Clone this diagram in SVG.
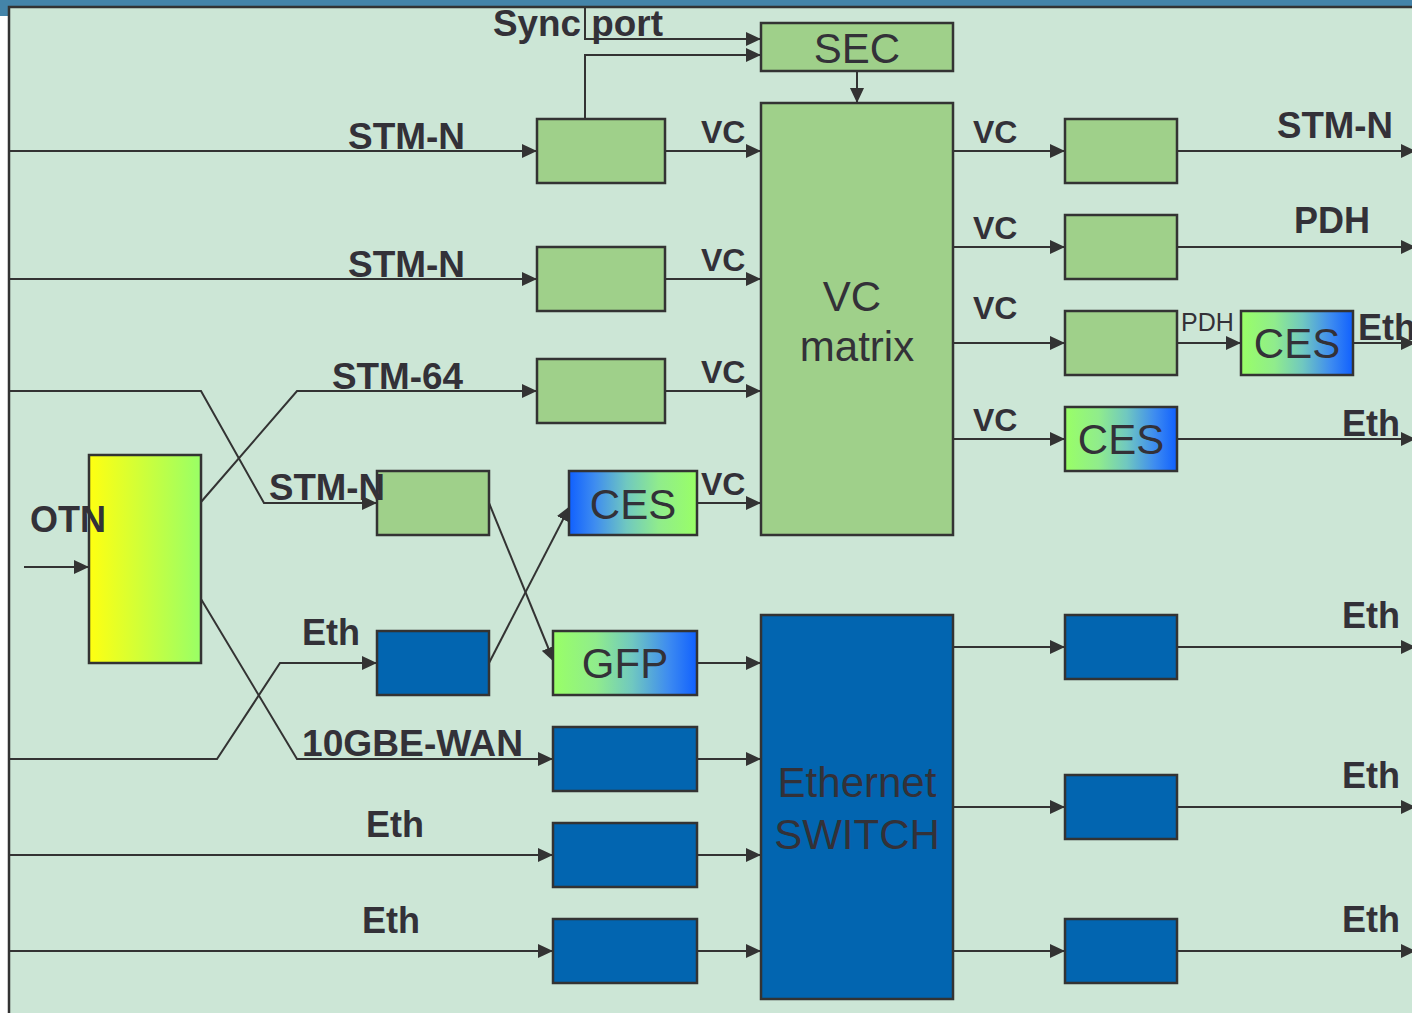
<svg xmlns="http://www.w3.org/2000/svg" width="1412" height="1013" viewBox="0 0 1412 1013">
<defs>
<style>
.g{fill:#9fd08a;stroke:#333;stroke-width:2.5}
.b{fill:#0265b0;stroke:#333;stroke-width:2.5}
.c{fill:none;stroke:#333;stroke-width:2}
.lb{font-family:"Liberation Sans",Arial,sans-serif;font-weight:bold;font-size:36px;fill:#333138}
.vc{font-family:"Liberation Sans",Arial,sans-serif;font-weight:bold;font-size:32px;fill:#333138}
.t{font-family:"Liberation Sans",Arial,sans-serif;font-size:42px;fill:#333138;text-anchor:middle}
.s{font-family:"Liberation Sans",Arial,sans-serif;font-size:25px;fill:#333138}
</style>
<marker id="ah" viewBox="0 0 15 14" refX="15" refY="7" markerWidth="15" markerHeight="14" orient="auto" markerUnits="userSpaceOnUse">
<path d="M0,0 L15,7 L0,14 z" fill="#333"/>
</marker>
<linearGradient id="gb" x1="0" y1="0" x2="1" y2="0">
<stop offset="0" stop-color="#99ff66"/>
<stop offset="0.3" stop-color="#90ec8c"/>
<stop offset="0.55" stop-color="#70c8c0"/>
<stop offset="0.8" stop-color="#3e8cf0"/>
<stop offset="1" stop-color="#1060ff"/>
</linearGradient>
<linearGradient id="bg" x1="1" y1="0" x2="0" y2="0">
<stop offset="0" stop-color="#99ff66"/>
<stop offset="0.3" stop-color="#90ec8c"/>
<stop offset="0.55" stop-color="#70c8c0"/>
<stop offset="0.8" stop-color="#3e8cf0"/>
<stop offset="1" stop-color="#1060ff"/>
</linearGradient>
<linearGradient id="yg" x1="0" y1="0" x2="1" y2="0">
<stop offset="0" stop-color="#ffff11"/>
<stop offset="1" stop-color="#99ff66"/>
</linearGradient>
</defs>

<rect x="0" y="0" width="1412" height="1013" fill="#ffffff"/>
<rect x="0" y="0" width="1412" height="7" fill="#4484a9"/>
<rect x="0" y="0" width="9" height="16" fill="#4484a9"/>
<rect x="9" y="7" width="1420" height="1020" fill="#cce6d6" stroke="#333" stroke-width="2.5"/>

<g id="connectors">
<polyline class="c" points="585,8 585,39 761,39" marker-end="url(#ah)"/>
<polyline class="c" points="585,119 585,55 761,55" marker-end="url(#ah)"/>
<line class="c" x1="857" y1="71" x2="857" y2="103" marker-end="url(#ah)"/>
<line class="c" x1="9" y1="151" x2="537" y2="151" marker-end="url(#ah)"/>
<line class="c" x1="9" y1="279" x2="537" y2="279" marker-end="url(#ah)"/>
<polyline class="c" points="9,391 201,391 264,503 377,503" marker-end="url(#ah)"/>
<polyline class="c" points="201,502 297,391 537,391" marker-end="url(#ah)"/>
<polyline class="c" points="201,599 297,759 553,759" marker-end="url(#ah)"/>
<polyline class="c" points="9,759 217,759 280,663 377,663" marker-end="url(#ah)"/>
<line class="c" x1="24" y1="567" x2="89" y2="567" marker-end="url(#ah)"/>
<line class="c" x1="489" y1="503" x2="554" y2="662" marker-end="url(#ah)"/>
<line class="c" x1="489" y1="663" x2="570" y2="506" marker-end="url(#ah)"/>
<line class="c" x1="9" y1="855" x2="553" y2="855" marker-end="url(#ah)"/>
<line class="c" x1="9" y1="951" x2="553" y2="951" marker-end="url(#ah)"/>
<line class="c" x1="665" y1="151" x2="761" y2="151" marker-end="url(#ah)"/>
<line class="c" x1="665" y1="279" x2="761" y2="279" marker-end="url(#ah)"/>
<line class="c" x1="665" y1="391" x2="761" y2="391" marker-end="url(#ah)"/>
<line class="c" x1="697" y1="503" x2="761" y2="503" marker-end="url(#ah)"/>
<line class="c" x1="697" y1="663" x2="761" y2="663" marker-end="url(#ah)"/>
<line class="c" x1="697" y1="759" x2="761" y2="759" marker-end="url(#ah)"/>
<line class="c" x1="697" y1="855" x2="761" y2="855" marker-end="url(#ah)"/>
<line class="c" x1="697" y1="951" x2="761" y2="951" marker-end="url(#ah)"/>
<line class="c" x1="953" y1="151" x2="1065" y2="151" marker-end="url(#ah)"/>
<line class="c" x1="953" y1="247" x2="1065" y2="247" marker-end="url(#ah)"/>
<line class="c" x1="953" y1="343" x2="1065" y2="343" marker-end="url(#ah)"/>
<line class="c" x1="953" y1="439" x2="1065" y2="439" marker-end="url(#ah)"/>
<line class="c" x1="953" y1="647" x2="1065" y2="647" marker-end="url(#ah)"/>
<line class="c" x1="953" y1="807" x2="1065" y2="807" marker-end="url(#ah)"/>
<line class="c" x1="953" y1="951" x2="1065" y2="951" marker-end="url(#ah)"/>
<line class="c" x1="1177" y1="151" x2="1416" y2="151" marker-end="url(#ah)"/>
<line class="c" x1="1177" y1="247" x2="1416" y2="247" marker-end="url(#ah)"/>
<line class="c" x1="1177" y1="343" x2="1241" y2="343" marker-end="url(#ah)"/>
<line class="c" x1="1353" y1="343" x2="1416" y2="343" marker-end="url(#ah)"/>
<line class="c" x1="1177" y1="439" x2="1416" y2="439" marker-end="url(#ah)"/>
<line class="c" x1="1177" y1="647" x2="1416" y2="647" marker-end="url(#ah)"/>
<line class="c" x1="1177" y1="807" x2="1416" y2="807" marker-end="url(#ah)"/>
<line class="c" x1="1177" y1="951" x2="1416" y2="951" marker-end="url(#ah)"/>
</g>

<g id="sec"><rect class="g" x="761" y="23" width="192" height="48"/><text class="t" x="857" y="63">SEC</text></g>
<g id="vcmatrix"><rect class="g" x="761" y="103" width="192" height="432"/><text class="t" x="852" y="311">VC</text><text class="t" x="857" y="361">matrix</text></g>
<g id="in1"><rect class="g" x="537" y="119" width="128" height="64"/></g>
<g id="in2"><rect class="g" x="537" y="247" width="128" height="64"/></g>
<g id="in3"><rect class="g" x="537" y="359" width="128" height="64"/></g>
<g id="stmn"><rect class="g" x="377" y="471" width="112" height="64"/></g>
<g id="ethin"><rect class="b" x="377" y="631" width="112" height="64"/></g>
<g id="otn"><rect x="89" y="455" width="112" height="208" fill="url(#yg)" stroke="#333" stroke-width="2.5"/></g>
<g id="cesl"><rect x="569" y="471" width="128" height="64" fill="url(#bg)" stroke="#333" stroke-width="2.5"/><text class="t" x="633" y="519">CES</text></g>
<g id="gfp"><rect x="553" y="631" width="144" height="64" fill="url(#gb)" stroke="#333" stroke-width="2.5"/><text class="t" x="625" y="678">GFP</text></g>
<g id="gbe"><rect class="b" x="553" y="727" width="144" height="64"/></g>
<g id="eth3"><rect class="b" x="553" y="823" width="144" height="64"/></g>
<g id="eth4"><rect class="b" x="553" y="919" width="144" height="64"/></g>
<g id="switch"><rect class="b" x="761" y="615" width="192" height="384"/><text class="t" x="857" y="797">Ethernet</text><text class="t" x="857" y="849">SWITCH</text></g>
<g id="out1"><rect class="g" x="1065" y="119" width="112" height="64"/></g>
<g id="out2"><rect class="g" x="1065" y="215" width="112" height="64"/></g>
<g id="out3"><rect class="g" x="1065" y="311" width="112" height="64"/></g>
<g id="cesr"><rect x="1241" y="311" width="112" height="64" fill="url(#gb)" stroke="#333" stroke-width="2.5"/><text class="t" x="1297" y="358">CES</text></g>
<g id="cesr2"><rect x="1065" y="407" width="112" height="64" fill="url(#gb)" stroke="#333" stroke-width="2.5"/><text class="t" x="1121" y="454">CES</text></g>
<g id="out5"><rect class="b" x="1065" y="615" width="112" height="64"/></g>
<g id="out6"><rect class="b" x="1065" y="775" width="112" height="64"/></g>
<g id="out7"><rect class="b" x="1065" y="919" width="112" height="64"/></g>

<g id="labels">
<text class="lb" x="493" y="36" textLength="170" lengthAdjust="spacingAndGlyphs">Sync port</text>
<text class="lb" x="348" y="149" textLength="117" lengthAdjust="spacingAndGlyphs">STM-N</text>
<text class="lb" x="348" y="277" textLength="117" lengthAdjust="spacingAndGlyphs">STM-N</text>
<text class="lb" x="332" y="389" textLength="131" lengthAdjust="spacingAndGlyphs">STM-64</text>
<text class="lb" x="269" y="500" textLength="116" lengthAdjust="spacingAndGlyphs">STM-N</text>
<text class="lb" x="30" y="532">OTN</text>
<text class="lb" x="302" y="645">Eth</text>
<text class="lb" x="302" y="756" textLength="221" lengthAdjust="spacingAndGlyphs">10GBE-WAN</text>
<text class="lb" x="366" y="837">Eth</text>
<text class="lb" x="362" y="933">Eth</text>
<text class="vc" x="701" y="143">VC</text>
<text class="vc" x="701" y="271">VC</text>
<text class="vc" x="701" y="383">VC</text>
<text class="vc" x="701" y="495">VC</text>
<text class="vc" x="973" y="143">VC</text>
<text class="vc" x="973" y="239">VC</text>
<text class="vc" x="973" y="319">VC</text>
<text class="vc" x="973" y="431">VC</text>
<text class="lb" x="1277" y="138" textLength="116" lengthAdjust="spacingAndGlyphs">STM-N</text>
<text class="lb" x="1294" y="233">PDH</text>
<text class="s" x="1181" y="331">PDH</text>
<text class="lb" x="1358" y="340">Eth</text>
<text class="lb" x="1342" y="436">Eth</text>
<text class="lb" x="1342" y="628">Eth</text>
<text class="lb" x="1342" y="788">Eth</text>
<text class="lb" x="1342" y="932">Eth</text>
</g>
</svg>
